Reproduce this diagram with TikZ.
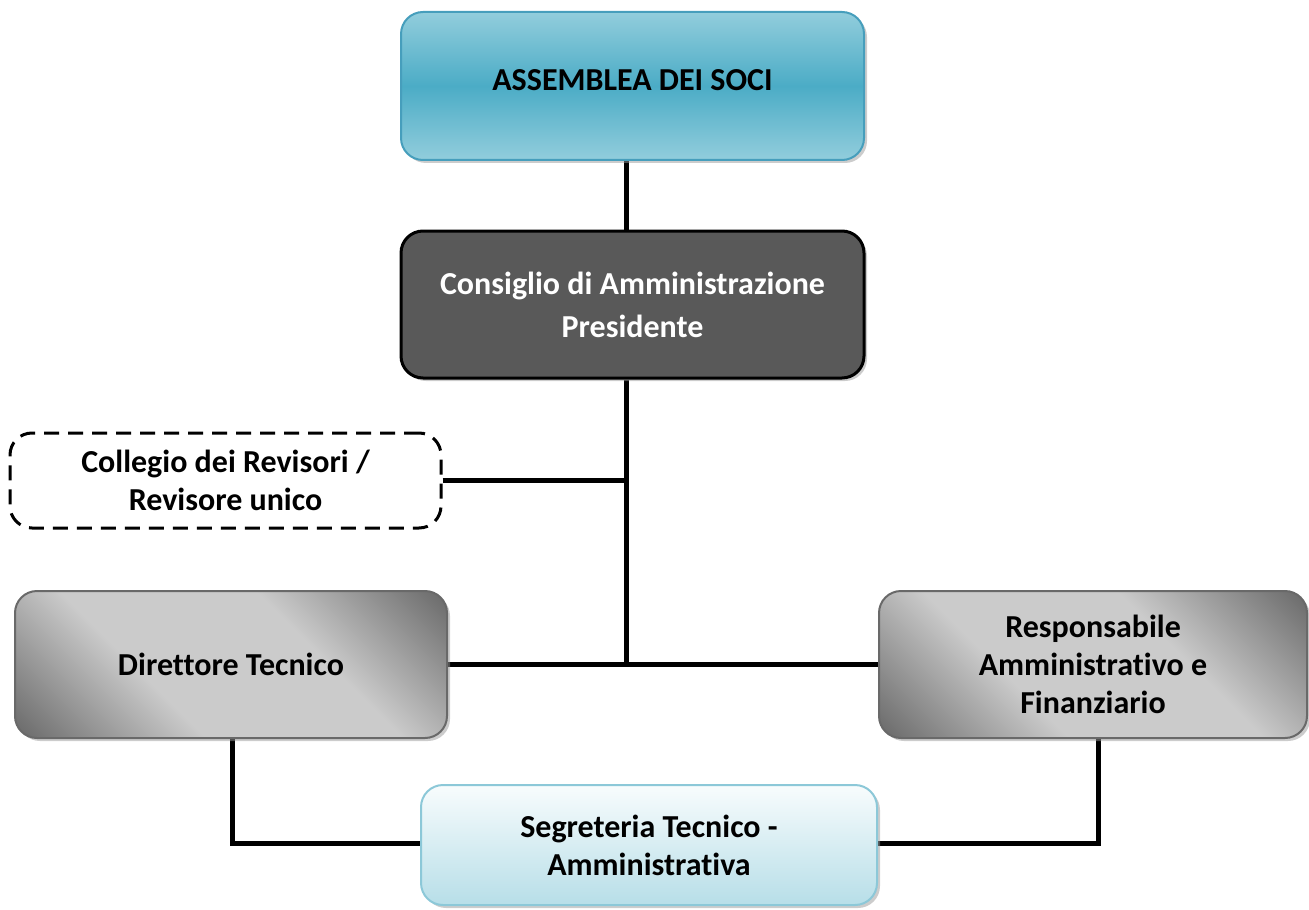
\documentclass[tikz,border=0pt]{standalone}
\usepackage{fontspec}
\setmainfont{Carlito}[Ligatures={NoCommon}]
\usetikzlibrary{shadows,backgrounds}

\definecolor{asmlight}{RGB}{146,205,220}
\definecolor{asmmid}{RGB}{75,172,198}
\definecolor{asmline}{RGB}{70,158,188}
\definecolor{cdafill}{RGB}{89,89,89}
\definecolor{gdark}{RGB}{110,110,110}
\definecolor{glight}{RGB}{203,203,203}
\definecolor{gline}{RGB}{105,105,105}
\definecolor{segtop}{RGB}{248,252,253}
\definecolor{segbot}{RGB}{183,222,232}
\definecolor{segline}{RGB}{140,200,216}

\pgfdeclareverticalshading{greyband}{100bp}{color(0bp)=(gdark); color(16bp)=(gdark); color(38bp)=(glight); color(62bp)=(glight); color(84bp)=(gdark); color(100bp)=(gdark)}

\tikzset{
  box/.style={rectangle, rounded corners=11pt, align=center, line width=1pt,
    font=\fontsize{16}{19}\selectfont\bfseries},
  shadowed/.style={drop shadow={shadow xshift=1.5pt, shadow yshift=-1.5pt, fill=black!40}},
  assembly/.style={box, shadowed, draw=asmline, top color=asmlight, bottom color=asmlight,
    middle color=asmmid},
  board/.style={box, shadowed, draw=black, line width=1.5pt, fill=cdafill, text=white,
    font=\fontsize{16}{21.5}\selectfont\bfseries},
  auditor/.style={box, draw=black, line width=1.5pt, dash pattern=on 7.5pt off 4.5pt, fill=white},
  office/.style={box, shadowed, draw=gline, shading=greyband, shading angle=-45},
  staff/.style={box, shadowed, draw=segline, top color=segtop, bottom color=segbot},
  link/.style={line width=2.5pt}
}

\begin{document}
\begin{tikzpicture}[x=0.5pt,y=-0.5pt]
\useasboundingbox (0,0) rectangle (1309,909);

\node [assembly, minimum width=231.5pt, minimum height=74pt, text depth=6pt] (asm) at (632.5,86) {ASSEMBLEA DEI SOCI};
\node [board, minimum width=231.5pt, minimum height=73.5pt] (cda) at (632.5,304.5) {Consiglio di Amministrazione\\Presidente};
\node [auditor, minimum width=215.5pt, minimum height=47.5pt] (rev) at (225.5,480.5) {Collegio dei Revisori /\\Revisore unico};
\node [office, minimum width=216pt, minimum height=73.5pt] (dir) at (231,664.5) {Direttore Tecnico};
\node [office, minimum width=214pt, minimum height=73.5pt] (raf) at (1093,664.5) {Responsabile\\Amministrativo e\\Finanziario};
\node [staff, minimum width=228pt, minimum height=60pt] (seg) at (649,845) {Segreteria Tecnico -\\Amministrativa};

\coordinate (hub) at (626,664.5);

\begin{pgfonlayer}{background}
\draw [link] (asm.south -| hub) -- (cda.north -| hub);
\draw [link] (cda.south -| hub) -- (hub);
\draw [link] (rev.east) -- (rev.east -| hub);
\draw [link] (dir.east) -- (raf.west);
\draw [link] ([xshift=0.5pt]dir.south) |- ([yshift=1pt]seg.west);
\draw [link] ([xshift=2.5pt]raf.south) |- ([yshift=1pt]seg.east);
\end{pgfonlayer}
\end{tikzpicture}
\end{document}
